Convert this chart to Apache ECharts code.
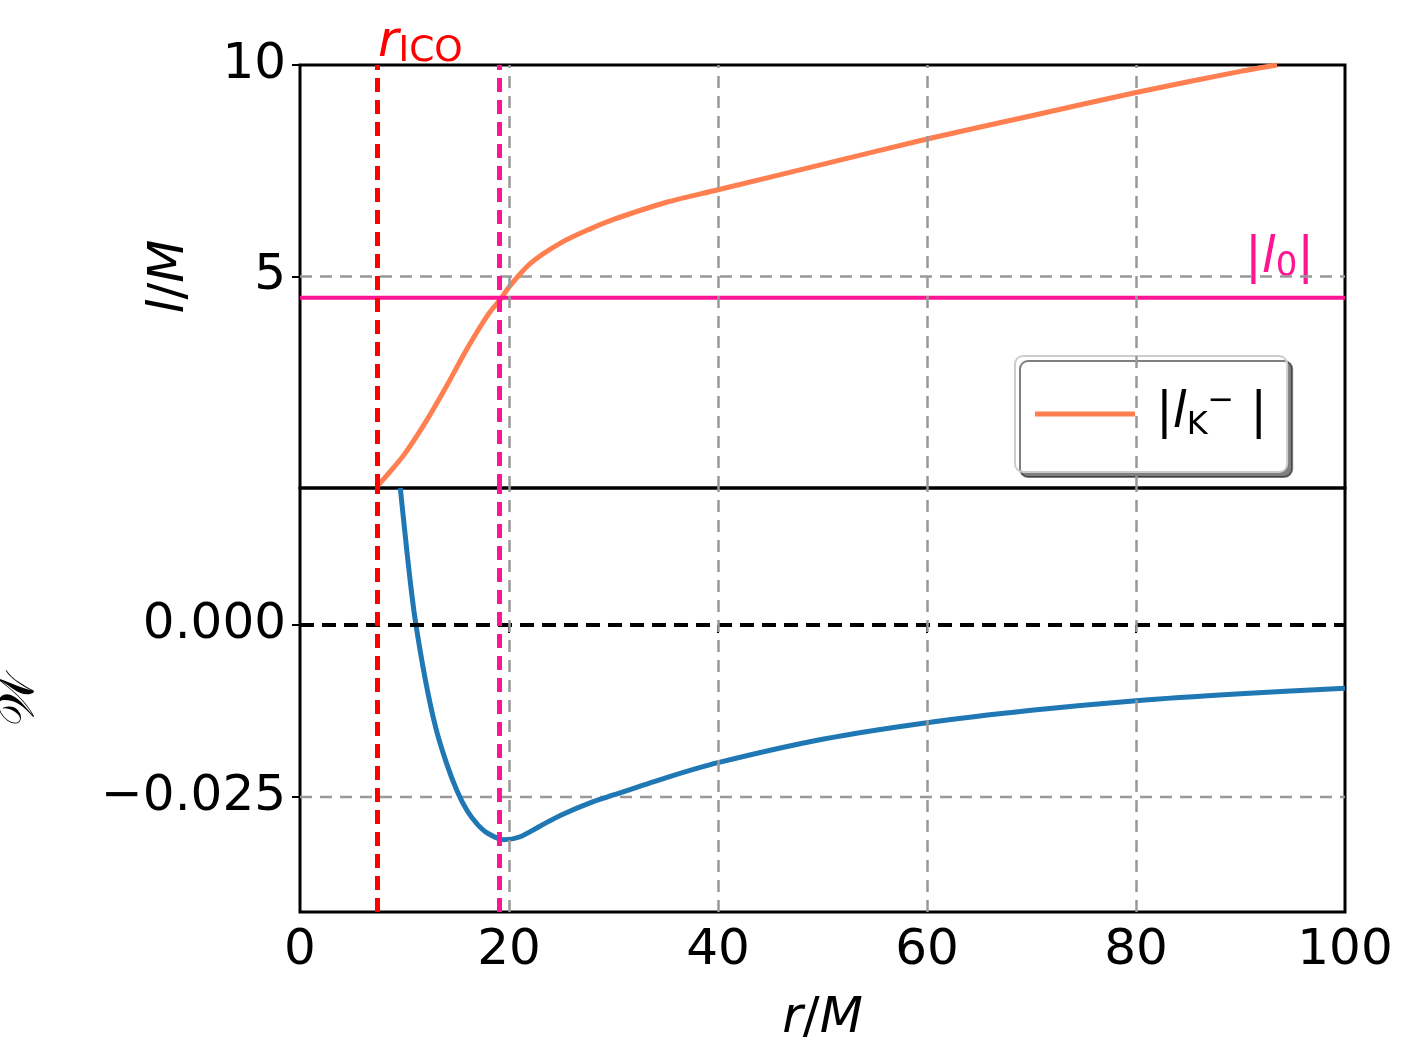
<!DOCTYPE html>
<html><head><meta charset="utf-8">
<script src="https://cdn.jsdelivr.net/npm/echarts@6/dist/echarts.min.js"></script>
<style>html,body{margin:0;padding:0;background:#fff}#c{width:1415px;height:1060px}</style>
</head><body><div id="c"></div>
<script>
const rL = [7.5, 8.5, 10, 12, 14, 16, 18, 19.3, 20, 22, 25, 28, 30, 35, 40, 50, 60, 70, 80, 90, 93.5];
const lK = [0.07, 0.35, 0.8, 1.55, 2.4, 3.3, 4.1, 4.5, 4.75, 5.3, 5.8, 6.15, 6.35, 6.75, 7.05, 7.65, 8.25, 8.8, 9.35, 9.85, 10];
const rW = [9.6, 10, 10.5, 11, 12, 13, 14, 15, 16, 17, 18, 19.5, 21, 23, 25, 28, 30, 35, 40, 50, 60, 70, 80, 90, 100];
const W = [0.0199, 0.014, 0.007, 0.001, -0.008, -0.015, -0.020, -0.024, -0.027, -0.029, -0.0303, -0.0312, -0.0308, -0.0292, -0.0276, -0.0257, -0.0247, -0.0222, -0.0200, -0.0166, -0.0142, -0.0124, -0.0110, -0.0100, -0.0092];
const l0 = 4.5;
const rICO = 7.4;
const rCross = 19.1;
const topTicks = [5, 10];
const botTicks = [-0.025, 0];

const F = 'DejaVu Sans';
const grey = {type: [12, 8], color: '#999', width: 2.5};
function vlines() {
  return [
    ...[20, 40, 60, 80].map(v => ({xAxis: v, lineStyle: grey})),
    {xAxis: rICO, lineStyle: {type: [14, 8], color: '#ff0000', width: 5}},
    {xAxis: rCross, lineStyle: {type: [14, 8], color: '#ff1493', width: 5}}
  ];
}
function hline(gi, y, ls, z) {
  return {type: 'line', xAxisIndex: gi, yAxisIndex: gi, data: [[0, y], [100, y]], showSymbol: false, silent: true,
    lineStyle: ls, z: z || 2, legendHoverLink: false};
}
const chart = echarts.init(document.getElementById('c'));
chart.setOption({
  animation: false,
  grid: [
    {left: 300, right: 70, top: 65, height: 423, show: true, borderColor: '#000', borderWidth: 3, outerBoundsMode: 'none', containLabel: false},
    {left: 300, right: 70, top: 488, height: 424, show: true, borderColor: '#000', borderWidth: 3, outerBoundsMode: 'none', containLabel: false}
  ],
  xAxis: [
    {gridIndex: 0, type: 'value', min: 0, max: 100, interval: 20, axisLabel: {show: false}, axisTick: {show: false}, splitLine: {show: false}, axisLine: {show: false}},
    {gridIndex: 1, type: 'value', min: 0, max: 100, interval: 20, splitLine: {show: false}, axisLine: {show: false},
     axisTick: {show: true, length: 8, lineStyle: {color: '#000', width: 2}},
     axisLabel: {fontFamily: F, fontSize: 50, color: '#000', margin: 14},
     name: '{i|r}/{i|M}', nameLocation: 'middle', nameGap: 82,
     nameTextStyle: {fontFamily: F, fontSize: 50, color: '#000', rich: {i: {fontStyle: 'italic', fontFamily: F, fontSize: 50}}}}
  ],
  yAxis: [
    {gridIndex: 0, type: 'value', min: 0, max: 10, interval: 5, splitLine: {show: false}, axisLine: {show: false},
     axisTick: {show: true, length: 8, lineStyle: {color: '#000', width: 2}, customValues: topTicks},
     axisLabel: {fontFamily: F, fontSize: 50, color: '#000', margin: 14, customValues: topTicks},
     name: '{i|l}/{i|M}', nameLocation: 'middle', nameGap: 105, nameRotate: 90,
     nameTextStyle: {fontFamily: F, fontSize: 50, color: '#000', rich: {i: {fontStyle: 'italic', fontFamily: F, fontSize: 50}}}},
    {gridIndex: 1, type: 'value', min: -0.0417, max: 0.0199, splitLine: {show: false}, axisLine: {show: false},
     axisTick: {show: true, length: 8, lineStyle: {color: '#000', width: 2}, customValues: botTicks},
     axisLabel: {fontFamily: F, fontSize: 50, color: '#000', margin: 14, customValues: botTicks,
       formatter: v => (v < 0 ? '\u2212' : '') + Math.abs(v).toFixed(3)},
     name: '\uD835\uDCB2', nameLocation: 'middle', nameGap: 255, nameRotate: 90,
     nameTextStyle: {fontFamily: F, fontSize: 50, color: '#000'}}
  ],
  legend: {
    data: ['lk'], left: 1015, top: 356, width: 303, height: 106,
    padding: [30, 20, 30, 20], backgroundColor: '#fff', borderColor: '#ccc', borderWidth: 2, borderRadius: 8,
    shadowColor: 'rgba(0,0,0,0.5)', shadowOffsetX: 5, shadowOffsetY: 5, shadowBlur: 0,
    itemWidth: 100, itemHeight: 5, itemGap: 10, icon: 'rect',
    formatter: () => '{a| |}{i|l}{s|K}{p|−}{a| |}',
    textStyle: {fontFamily: F, fontSize: 50, color: '#000', rich: {
      a: {fontFamily: F, fontSize: 50}, i: {fontFamily: F, fontSize: 50, fontStyle: 'italic'},
      s: {fontFamily: F, fontSize: 32, padding: [24, 0, 0, 0]}, p: {fontFamily: F, fontSize: 32, padding: [0, 0, 24, 0]}}}
  },
  series: [
    {name: 'lk', type: 'line', xAxisIndex: 0, yAxisIndex: 0, data: rL.map((r, i) => [r, lK[i]]),
     smooth: 0.3, showSymbol: false, lineStyle: {color: '#ff7f50', width: 5}, itemStyle: {color: '#ff7f50'}, clip: true, z: 3,
     markLine: {silent: true, symbol: 'none', label: {show: false}, data: vlines()}},
    hline(0, 5, grey),
    hline(0, l0, {type: 'solid', color: '#ff1493', width: 4}, 4),
    {name: 'w', type: 'line', xAxisIndex: 1, yAxisIndex: 1, data: rW.map((r, i) => [r, W[i]]),
     smooth: 0.3, showSymbol: false, lineStyle: {color: '#1f77b4', width: 5}, clip: true, z: 3,
     markLine: {silent: true, symbol: 'none', label: {show: false}, data: vlines()}},
    hline(1, -0.025, grey),
    hline(1, 0, {type: [14, 8], color: '#000', width: 4}, 4)
  ],
  graphic: [
    {type: 'text', left: 378, top: 18, style: {text: '{i|r}{s|ICO}', fill: '#ff0000',
      rich: {i: {fontFamily: F, fontSize: 50, fontStyle: 'italic', fill: '#ff0000'}, s: {fontFamily: F, fontSize: 36, fill: '#ff0000', padding: [18, 0, 0, 0]}}}},
    {type: 'text', left: 1245, top: 234, style: {text: '|{i|l}{s|0}|', fill: '#ff1493', fontFamily: F, fontSize: 50,
      rich: {i: {fontFamily: F, fontSize: 50, fontStyle: 'italic', fill: '#ff1493'}, s: {fontFamily: F, fontSize: 34, fill: '#ff1493', padding: [16, 0, 0, 0]}}}}
  ]
});
</script></body></html>
